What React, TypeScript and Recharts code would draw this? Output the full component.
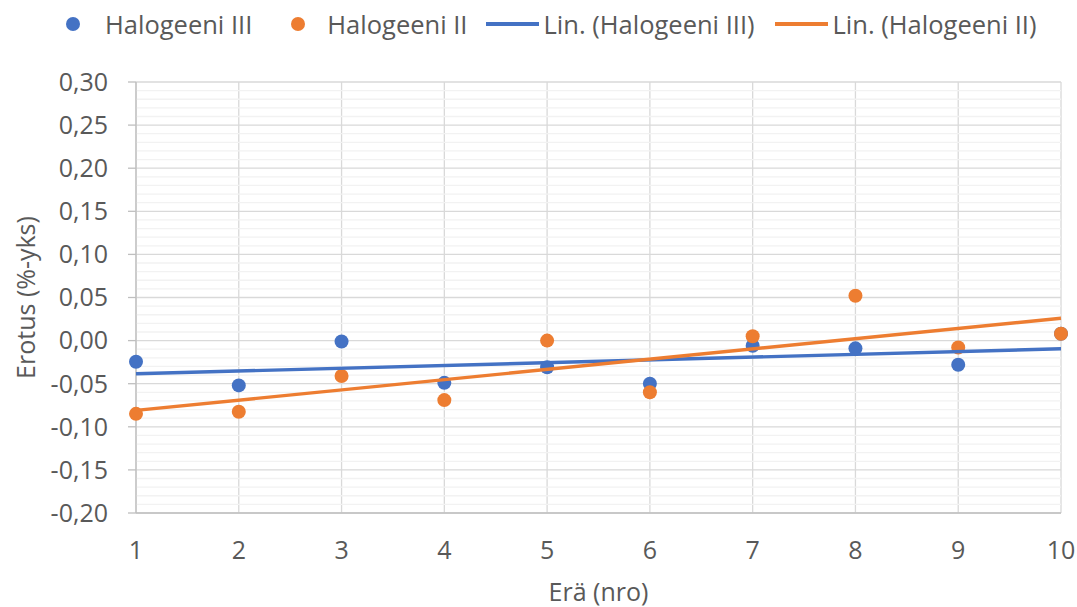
import React from 'react';
import {
  ScatterChart,
  Scatter,
  XAxis,
  YAxis,
  CartesianGrid,
  ReferenceLine,
  Legend,
  Label,
} from 'recharts';

// ---- data ----
const batches = [1, 2, 3, 4, 5, 6, 7, 8, 9, 10];
const halogeeniIII = [-0.0245, -0.052, -0.001, -0.049, -0.031, -0.05, -0.006, -0.009, -0.028, 0.008];
const halogeeniII = [-0.085, -0.0825, -0.041, -0.069, 0.0, -0.06, 0.005, 0.052, -0.008, 0.008];
const trendX = [1, 10];
const trendIII = [-0.0385, -0.0095];
const trendII = [-0.081, 0.026];

const xTicks = [1, 2, 3, 4, 5, 6, 7, 8, 9, 10];
const yTicks = [-0.2, -0.15, -0.1, -0.05, 0, 0.05, 0.1, 0.15, 0.2, 0.25, 0.3];
const yMinorTicks = [
  -0.19, -0.18, -0.17, -0.16, -0.14, -0.13, -0.12, -0.11, -0.09, -0.08, -0.07, -0.06,
  -0.04, -0.03, -0.02, -0.01, 0.01, 0.02, 0.03, 0.04, 0.06, 0.07, 0.08, 0.09,
  0.11, 0.12, 0.13, 0.14, 0.16, 0.17, 0.18, 0.19, 0.21, 0.22, 0.23, 0.24,
  0.26, 0.27, 0.28, 0.29,
];

const seriesNames = ['Halogeeni III', 'Halogeeni II', 'Lin. (Halogeeni III)', 'Lin. (Halogeeni II)'];

const BLUE = '#4472C4';
const ORANGE = '#ED7D31';
const TEXT = '#595959';
const FONT = '"Open Sans", sans-serif';

const dataIII = batches.map((x, i) => ({ x, y: halogeeniIII[i] }));
const dataII = batches.map((x, i) => ({ x, y: halogeeniII[i] }));
const trendDataIII = trendX.map((x, i) => ({ x, y: trendIII[i] }));
const trendDataII = trendX.map((x, i) => ({ x, y: trendII[i] }));

const fmt = (v: number) => v.toFixed(2).replace('.', ',').replace('-0,00', '0,00');

const Dot = (color: string) => (props: any) =>
  <circle cx={props.cx} cy={props.cy} r={7} fill={color} />;

const Empty = () => <g />;

const renderLegend = () => {
  const textStyle: React.CSSProperties = {
    fontFamily: FONT,
    fontSize: 25.5,
    color: TEXT,
    whiteSpace: 'nowrap',
    lineHeight: '30px',
  };
  const dot = (c: string) => (
    <span style={{ display: 'inline-block', width: 14, height: 14, borderRadius: '50%', background: c }} />
  );
  const line = (c: string) => (
    <span style={{ display: 'inline-block', width: 53, height: 3.5, background: c }} />
  );
  return (
    <div style={{ display: 'flex', alignItems: 'center', height: 30 }}>
      <span style={{ marginLeft: 66, display: 'flex' }}>{dot(BLUE)}</span>
      <span style={{ ...textStyle, marginLeft: 25 }}>{seriesNames[0]}</span>
      <span style={{ marginLeft: 39, display: 'flex' }}>{dot(ORANGE)}</span>
      <span style={{ ...textStyle, marginLeft: 22 }}>{seriesNames[1]}</span>
      <span style={{ marginLeft: 18, display: 'flex' }}>{line(BLUE)}</span>
      <span style={{ ...textStyle, marginLeft: 5 }}>{seriesNames[2]}</span>
      <span style={{ marginLeft: 20, display: 'flex' }}>{line(ORANGE)}</span>
      <span style={{ ...textStyle, marginLeft: 5 }}>{seriesNames[3]}</span>
    </div>
  );
};

export default function App() {
  return (
    <div style={{ position: 'absolute', left: 0, top: 0, width: 1077, height: 607, background: '#fff' }}>
      <ScatterChart
        width={1077}
        height={607}
        margin={{ top: 82, right: 16, bottom: 0, left: 0 }}
        style={{ fontFamily: FONT }}
      >
        {yMinorTicks.map((v) => (
          <ReferenceLine key={v} y={v} stroke="#f2f2f2" strokeWidth={1.3} ifOverflow="hidden" />
        ))}
        <CartesianGrid stroke="#d9d9d9" strokeWidth={1.3} />
        <XAxis
          type="number"
          dataKey="x"
          domain={[1, 10]}
          ticks={xTicks}
          allowDecimals={false}
          height={94}
          tickLine={false}
          tickSize={0}
          tickMargin={28}
          axisLine={{ stroke: '#bfbfbf', strokeWidth: 1.3 }}
          tick={{ fill: TEXT, fontSize: 25, fontFamily: FONT }}
        >
          <Label
            value="Erä (nro)"
            position="insideBottom"
            offset={6}
            style={{ fill: TEXT, fontSize: 25, fontFamily: FONT }}
          />
        </XAxis>
        <YAxis
          type="number"
          dataKey="y"
          domain={[-0.2, 0.3]}
          ticks={yTicks}
          width={136}
          tickFormatter={fmt}
          tickSize={8}
          tickMargin={20}
          tickLine={{ stroke: '#bfbfbf', strokeWidth: 1.3 }}
          axisLine={{ stroke: '#bfbfbf', strokeWidth: 1.3 }}
          tick={{ fill: TEXT, fontSize: 25, fontFamily: FONT }}
          allowDataOverflow
        >
          <Label
            value="Erotus (%-yks)"
            angle={-90}
            position="insideLeft"
            offset={26}
            style={{ fill: TEXT, fontSize: 25, fontFamily: FONT, textAnchor: 'middle' }}
          />
        </YAxis>
        <Legend
          verticalAlign="middle"
          align="center"
          layout="horizontal"
          content={renderLegend}
          wrapperStyle={{ top: 9, left: 0, width: 1077, height: 30 }}
        />
        <Scatter
          name={seriesNames[0]}
          data={dataIII}
          fill={BLUE}
          shape={Dot(BLUE)}
          isAnimationActive={false}
        />
        <Scatter
          name={seriesNames[1]}
          data={dataII}
          fill={ORANGE}
          shape={Dot(ORANGE)}
          isAnimationActive={false}
        />
        <Scatter
          name={seriesNames[2]}
          data={trendDataIII}
          fill={BLUE}
          line={{ stroke: BLUE, strokeWidth: 3.4 }}
          shape={Empty}
          isAnimationActive={false}
        />
        <Scatter
          name={seriesNames[3]}
          data={trendDataII}
          fill={ORANGE}
          line={{ stroke: ORANGE, strokeWidth: 3.4 }}
          shape={Empty}
          isAnimationActive={false}
        />
      </ScatterChart>
    </div>
  );
}
